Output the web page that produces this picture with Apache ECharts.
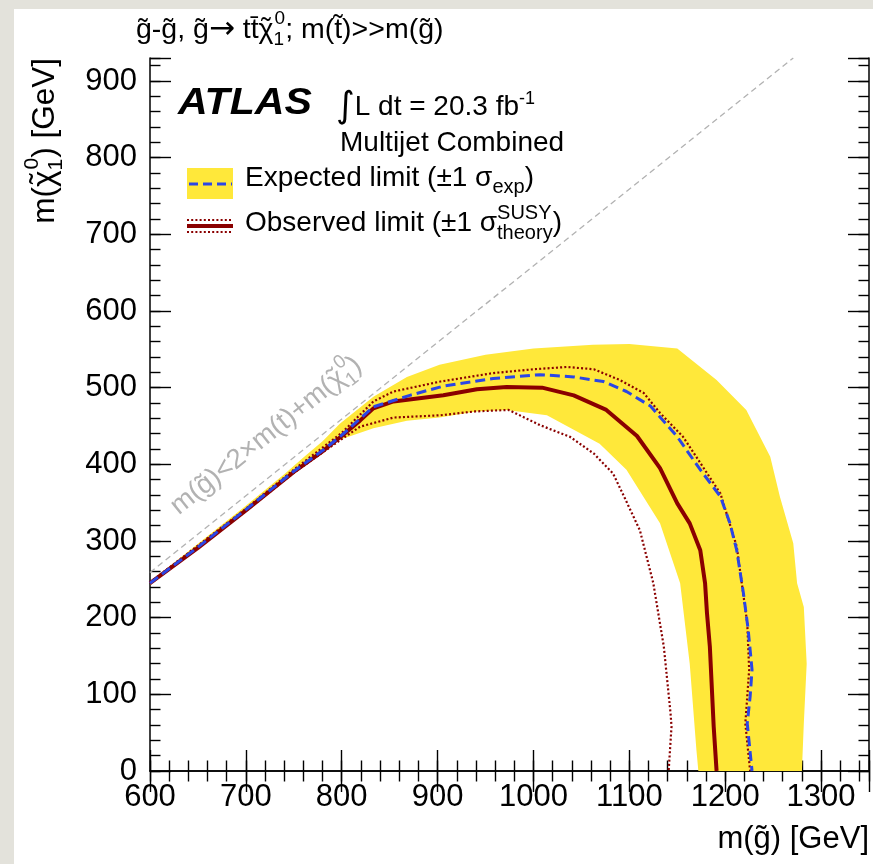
<!DOCTYPE html>
<html>
<head>
<meta charset="utf-8">
<script src="https://cdn.jsdelivr.net/npm/echarts@6/dist/echarts.min.js"></script>
<style>
  html, body { margin: 0; padding: 0; width: 873px; height: 864px; overflow: hidden; background: #e3e2db; }
  #sheet { position: absolute; left: 14px; top: 9px; right: 0; bottom: 0; background: #fff; }
  #chart { position: absolute; left: 0; top: 0; width: 873px; height: 864px; }
</style>
</head>
<body>
<div id="sheet"></div>
<div id="chart"></div>
<script>
// Axis ranges and tick labels
const xRange = [600, 1350];
const yRange = [0, 930];
const xTickLabels = [600, 700, 800, 900, 1000, 1100, 1200, 1300];
const yTickLabels = [0, 100, 200, 300, 400, 500, 600, 700, 800, 900];

// Kinematic boundary m(gluino) = 2 m(top) + m(neutralino)
const kinX = [600, 1271];
const kinY = [259, 930];

// Expected-limit +-1 sigma band: outer edge, then inner edge back to the start
const bandX = [600, 700, 740, 760, 780, 798, 833, 868, 902, 950, 1000, 1062, 1100, 1150, 1191, 1222, 1247, 1257, 1271, 1275, 1282, 1285, 1282, 1280,
               1172, 1170, 1163, 1153, 1132, 1097, 1069, 1042, 1014, 972, 940, 902, 868, 833, 798, 760, 700, 600];
const bandY = [247, 346, 387, 409, 430, 453, 488, 514, 530, 543, 551, 556, 557, 551, 510, 471, 410, 358, 297, 245, 214, 140, 62, 0,
               0, 27, 140, 245, 323, 393, 427, 445, 464, 471, 469, 461, 457, 447, 432, 398, 340, 243];

// Expected limit
const expX = [600, 650, 700, 750, 780, 800, 833, 871, 906, 958, 1007, 1042, 1073, 1097, 1122, 1150, 1174, 1195, 1205, 1212, 1219, 1224, 1228, 1226, 1223, 1228];
const expY = [245, 292, 341, 391, 418, 438, 475, 490, 502, 512, 517, 514, 508, 495, 476, 436, 393, 358, 323, 288, 232, 184, 132, 97, 62, 0];

// Observed limit
const obsX = [600, 650, 700, 750, 780, 800, 819, 833, 854, 906, 941, 972, 1009, 1042, 1076, 1108, 1132, 1150, 1163, 1174, 1179, 1181, 1184, 1188, 1191];
const obsY = [245, 291, 340, 390, 417, 437, 457, 473, 482, 490, 498, 501, 500, 490, 471, 437, 395, 349, 323, 288, 245, 206, 162, 58, 0];

// Observed limit, +1 sigma theory
const obsUpX = [600, 700, 750, 800, 833, 854, 903, 958, 1000, 1035, 1063, 1090, 1115, 1132, 1156, 1195, 1212, 1223, 1225, 1221, 1226];
const obsUpY = [246, 342, 393, 441, 482, 495, 508, 519, 524, 527, 524, 510, 493, 467, 436, 362, 293, 193, 132, 62, 0];

// Observed limit, -1 sigma theory
const obsDnX = [600, 700, 750, 800, 819, 854, 903, 939, 974, 1007, 1038, 1063, 1083, 1093, 1111, 1125, 1136, 1143, 1144, 1141];
const obsDnY = [244, 339, 389, 433, 449, 461, 464, 469, 471, 451, 436, 414, 388, 362, 314, 245, 162, 75, 58, 0];

const zip = (xs, ys) => xs.map((x, i) => [x, ys[i]]);

const BAND = '#ffe83a';
const RED = '#8a0000';
const BLUE = '#2b46e6';
const GREY = '#b2b2b2';
const FONT = '"Liberation Sans", Arial, Helvetica, sans-serif';
const SYMF = '"DejaVu Sans", sans-serif';

// ---- text runs with sub/superscripts ----
const mctx = document.createElement('canvas').getContext('2d');
function fontStr(s) {
  return (s.italic ? 'italic ' : '') + (s.bold ? 'bold ' : '') + s.size + 'px ' + (s.family || FONT);
}
function measure(t, s) { mctx.font = fontStr(s); return mctx.measureText(t).width; }

// pieces: {t, size, dy, dx, family, center}; an array entry stacks its parts at the same x
// (center: place the part centred over the first part of its stack)
function textRun(pieces, opts) {
  const items = [];
  let x = 0;
  pieces.forEach(pc => {
    const grp = Array.isArray(pc) ? pc : [pc];
    let adv = 0, w0 = 0;
    grp.forEach((p, k) => {
      const st = {
        size: p.size || opts.size, family: p.family,
        bold: p.bold != null ? p.bold : opts.bold,
        italic: p.italic != null ? p.italic : opts.italic
      };
      const w = measure(p.t, st);
      if (k === 0) w0 = w;
      let dx = p.dx || 0;
      if (p.center) dx += (w0 - w) / 2;
      items.push({ t: p.t, x: x + dx, y: (p.dy || 0) - 0.3465 * st.size, font: fontStr(st) });
      if (!p.center) adv = Math.max(adv, w + dx);
    });
    x += adv;
  });
  const shift = opts.align === 'right' ? -x : 0;
  const base = opts.baseShift || 0;
  return items.map(it => ({
    type: 'text', x: it.x + shift, y: it.y + base, silent: true,
    style: { text: it.t, font: it.font, fill: opts.color || '#000',
             align: 'left', textAlign: 'left', verticalAlign: 'middle', textVerticalAlign: 'middle' }
  }));
}
function label(pieces, opts) {
  return {
    type: 'group', x: opts.x, y: opts.y, rotation: opts.rotation || 0,
    scaleX: opts.scaleX || 1, scaleY: 1, children: textRun(pieces, opts)
  };
}
// neutralino symbol: chi with a tilde, then stacked 0 / 1
function chi(size, idx) {
  return [
    [{ t: '\u03c7' }, { t: '\u02dc', center: true, dy: -0.05 * size }],
    [{ t: '0', size: idx, dy: -0.52 * size, dx: 1 }, { t: '1', size: idx, dy: 0.24 * size }]
  ];
}

// ---- axes: labelled minor-tick axes plus long major-tick axes on all four sides ----
const tickLine = { color: '#000', width: 1.4 };
function xAx(pos, step, len, labels, line) {
  return {
    type: 'value', position: pos, min: xRange[0], max: xRange[1], interval: step,
    axisLine: { show: line, lineStyle: { color: '#000', width: 1.5 } },
    axisTick: { show: true, inside: true, length: len, lineStyle: tickLine },
    axisLabel: labels ? {
      show: true, margin: 11, fontSize: 31, fontFamily: FONT, color: '#000',
      formatter: v => xTickLabels.indexOf(v) >= 0 ? String(v) : ''
    } : { show: false },
    splitLine: { show: false }
  };
}
function yAx(pos, step, len, labels, line) {
  return {
    type: 'value', position: pos, min: yRange[0], max: yRange[1], interval: step,
    axisLine: { show: line, lineStyle: { color: '#000', width: 1.5 } },
    axisTick: { show: true, inside: true, length: len, lineStyle: tickLine },
    axisLabel: labels ? {
      show: true, margin: 13, fontSize: 31, fontFamily: FONT, color: '#000',
      formatter: v => yTickLabels.indexOf(v) >= 0 ? String(v) : ''
    } : { show: false },
    splitLine: { show: false }
  };
}

const bandPoly = zip(bandX, bandY);

const lineSeries = (name, xs, ys, style, z) => ({
  name, type: 'line', data: zip(xs, ys), xAxisIndex: 0, yAxisIndex: 0,
  showSymbol: false, symbol: 'none', silent: true, animation: false, clip: true, z,
  lineStyle: style
});

const graphics = [
  // title
  label([
    { t: 'g\u0303-g\u0303, g\u0303' },
    { t: '\u2192', family: SYMF, size: 31, dy: 1 },
    { t: ' tt\u0304' },
    ...chi(28.5, 19),
    { t: '; m(t\u0303)>>m(g\u0303)' }
  ], { x: 136, y: 40, size: 28.5 }),
  // ATLAS label and luminosity
  label([{ t: 'ATLAS' }], { x: 178, y: 117, size: 37, bold: true, italic: true, scaleX: 1.11 }),
  label([
    { t: '\u222b', size: 36, dy: 3, family: SYMF },
    { t: 'L dt = 20.3 fb' },
    { t: '-1', size: 18, dy: -12 }
  ], { x: 336, y: 117, size: 28 }),
  label([{ t: 'Multijet Combined' }], { x: 340, y: 153, size: 28 }),
  // legend: expected
  { type: 'rect', silent: true, shape: { x: 187, y: 168, width: 46, height: 31 }, style: { fill: BAND } },
  { type: 'line', silent: true, shape: { x1: 189, y1: 184, x2: 232, y2: 184 },
    style: { stroke: BLUE, lineWidth: 3, lineDash: [9, 5] } },
  label([
    { t: 'Expected limit (\u00b11 \u03c3' },
    { t: 'exp', size: 20, dy: 6 },
    { t: ')' }
  ], { x: 245, y: 188, size: 28 }),
  // legend: observed
  { type: 'line', silent: true, shape: { x1: 187, y1: 220, x2: 233, y2: 220 },
    style: { stroke: RED, lineWidth: 2, lineDash: [2, 2.2] } },
  { type: 'line', silent: true, shape: { x1: 187, y1: 226, x2: 233, y2: 226 },
    style: { stroke: RED, lineWidth: 4 } },
  { type: 'line', silent: true, shape: { x1: 187, y1: 232, x2: 233, y2: 232 },
    style: { stroke: RED, lineWidth: 2, lineDash: [2, 2.2] } },
  label([
    { t: 'Observed limit (\u00b11 \u03c3' },
    [{ t: 'SUSY', size: 20, dy: -13 }, { t: 'theory', size: 20, dy: 7 }],
    { t: ')' }
  ], { x: 245, y: 233, size: 28 }),
  // kinematic boundary label
  label([
    { t: 'm(g\u0303)<2\u00d7m(t)+m(' },
    ...chi(27.5, 19),
    { t: ')' }
  ], { x: 180, y: 517, size: 27.5, rotation: 0.674, color: GREY }),
  // axis titles
  label([{ t: 'm(g\u0303) [GeV]' }], { x: 869, y: 850, size: 31, align: 'right' }),
  label([
    { t: 'm(' },
    ...chi(31.5, 21),
    { t: ') [GeV]' }
  ], { x: 45, y: 58, size: 31.5, align: 'right', rotation: Math.PI / 2, baseShift: 10.9 })
];

const chart = echarts.init(document.getElementById('chart'), null, { renderer: 'canvas' });
chart.setOption({
  animation: false,
  backgroundColor: 'transparent',
  grid: { left: 150, right: 4, top: 58, bottom: 93, containLabel: false, outerBoundsMode: 'none' },
  xAxis: [
    xAx('bottom', 20, 10.5, true, true),
    xAx('bottom', 100, 21, false, false),
    xAx('top', 20, 10.5, false, true),
    xAx('top', 100, 21, false, false)
  ],
  yAxis: [
    yAx('left', 20, 10.5, true, true),
    yAx('left', 100, 21, false, false),
    yAx('right', 20, 10.5, false, true),
    yAx('right', 100, 21, false, false)
  ],
  series: [
    {
      name: 'Expected band', type: 'custom', xAxisIndex: 0, yAxisIndex: 0,
      data: bandPoly, silent: true, animation: false, z: 1,
      renderItem: (params, api) => {
        if (params.dataIndex !== 0) return null;
        return {
          type: 'polygon',
          shape: { points: bandPoly.map(p => api.coord(p)) },
          style: { fill: BAND, stroke: null }
        };
      }
    },
    lineSeries('Kinematic limit', kinX, kinY, { color: GREY, width: 1.3, type: [6, 4] }, 2),
    lineSeries('Observed -1 sigma', obsDnX, obsDnY, { color: RED, width: 2.2, type: [2, 2.2] }, 3),
    lineSeries('Observed +1 sigma', obsUpX, obsUpY, { color: RED, width: 2.2, type: [2, 2.2] }, 3),
    lineSeries('Observed limit', obsX, obsY, { color: RED, width: 4 }, 4),
    lineSeries('Expected limit', expX, expY, { color: BLUE, width: 3, type: [10, 5] }, 5)
  ],
  graphic: { elements: graphics }
});
</script>
</body>
</html>
